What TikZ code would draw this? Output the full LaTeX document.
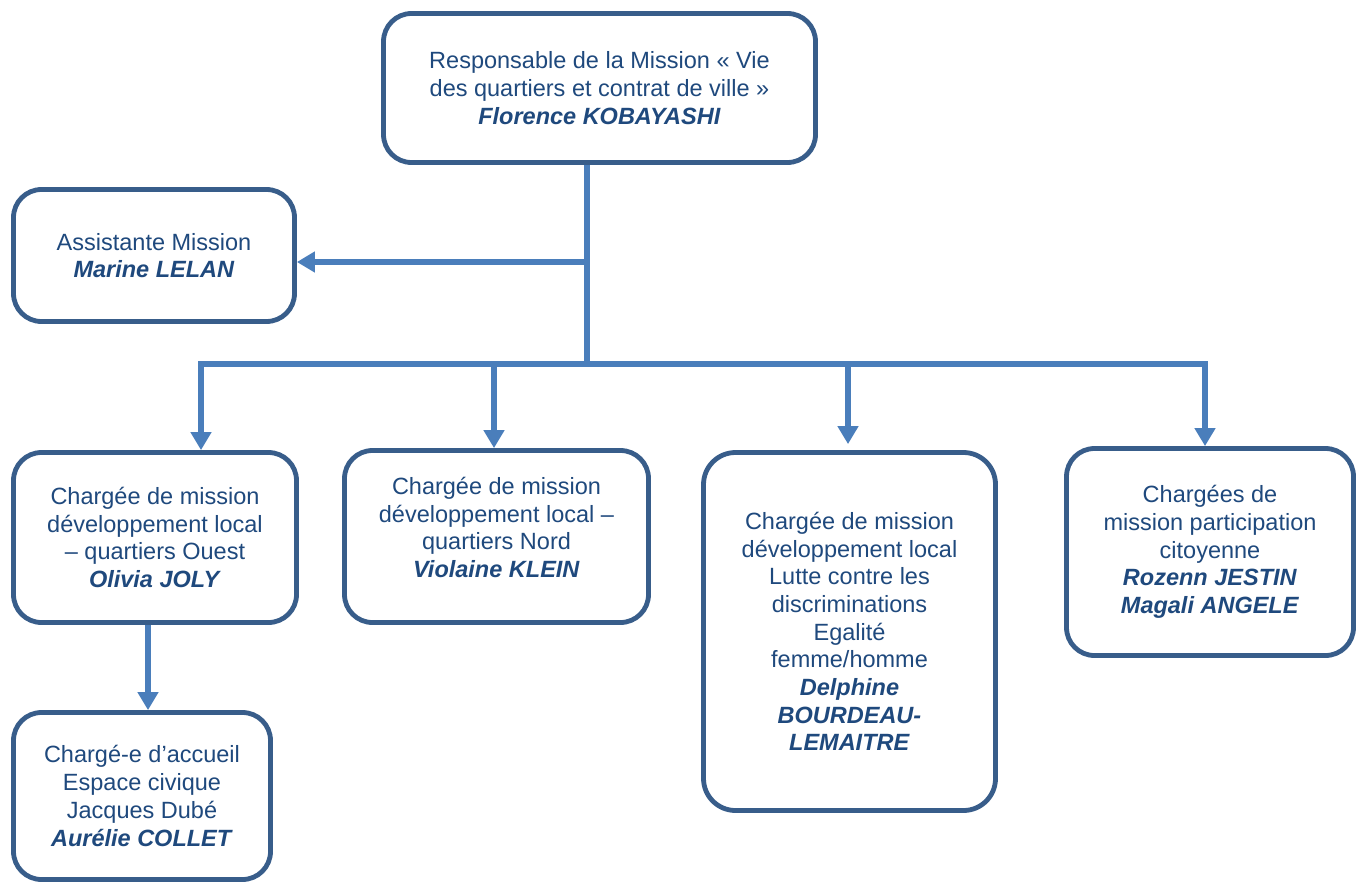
\documentclass[tikz,border=0pt]{standalone}
\usepackage{fontspec}
\setmainfont{Liberation Sans}
\usetikzlibrary{arrows.meta}
\definecolor{txtblue}{RGB}{31,73,125}
\definecolor{boxline}{RGB}{56,93,138}
\definecolor{arrblue}{RGB}{74,126,187}
\newcommand{\nm}[1]{\textbf{\textit{#1}}}
\begin{document}
\begin{tikzpicture}[x=1pt,y=-1pt,
  orgbox/.style={draw=boxline, line width=4.8pt, fill=white, rounded corners=28pt,
    align=center, text=txtblue, inner sep=0pt,
    font=\fontsize{23.5}{27.7}\selectfont},
  boxtext/.style={align=center, text=txtblue, inner sep=0pt,
    font=\fontsize{23.5}{27.7}\selectfont},
  conn/.style={draw=arrblue, line width=5.6pt},
  arr/.style={conn, -{Triangle[width=20pt,length=18pt]}}
]
\useasboundingbox (0,0) rectangle (1365,883);
\fill[white] (0,0) rectangle (1365,883);

\node[orgbox, minimum width=432pt, minimum height=149pt] (top) at (599.5,88)
  {Responsable de la Mission « Vie\\des quartiers et contrat de ville »\\\nm{Florence KOBAYASHI}};
\node[orgbox, minimum width=281pt, minimum height=132pt] (assist) at (154,255.5)
  {Assistante Mission\\\nm{Marine LELAN}};
\node[orgbox, minimum width=283pt, minimum height=170pt] (b1) at (155,537.5)
  {Chargée de mission\\développement local\\– quartiers Ouest\\\nm{Olivia JOLY}};
\node[orgbox, minimum width=304pt, minimum height=172pt] (b2) at (496.5,536.5) {};
\node[boxtext, yshift=9pt] (b2t) at (b2.center)
  {Chargée de mission\\développement local –\\quartiers Nord\\\nm{Violaine KLEIN}};
\node[orgbox, rounded corners=32pt, minimum width=292pt, minimum height=358pt] (b3) at (849.5,631.5)
  {Chargée de mission\\développement local\\Lutte contre les\\discriminations\\Egalité\\femme/homme\\\nm{Delphine}\\\nm{BOURDEAU-}\\\nm{LEMAITRE}};
\node[orgbox, minimum width=287pt, minimum height=207pt] (b4) at (1210,552)
  {Chargées de\\mission participation\\citoyenne\\\nm{Rozenn JESTIN}\\\nm{Magali ANGELE}};
\node[orgbox, minimum width=257pt, minimum height=167pt] (b5) at (142,796)
  {Chargé-e d’accueil\\Espace civique\\Jacques Dubé\\\nm{Aurélie COLLET}};

\coordinate (j) at (587,364);
\coordinate (ja) at (587,262);
\coordinate (bl) at (201,364);
\coordinate (br) at (1205,364);
\coordinate (d2) at (494,364);
\coordinate (d3) at (848,364);
\coordinate (c5) at (148,700);

\draw[conn] (top.south -| j) -- ([yshift=-2.8pt]j);
\draw[arr] (ja) -- (ja -| assist.east);
\draw[arr, line join=miter] (j) -- (bl) -- (bl |- b1.north);
\draw[arr, line join=miter] (j) -- (br) -- (br |- b4.north);
\draw[arr] (d2) -- (d2 |- b2.north);
\draw[arr] (d3) -- ([yshift=6pt]d3 |- b3.north);
\draw[arr] (b1.south -| c5) -- (b5.north -| c5);
\end{tikzpicture}
\end{document}
